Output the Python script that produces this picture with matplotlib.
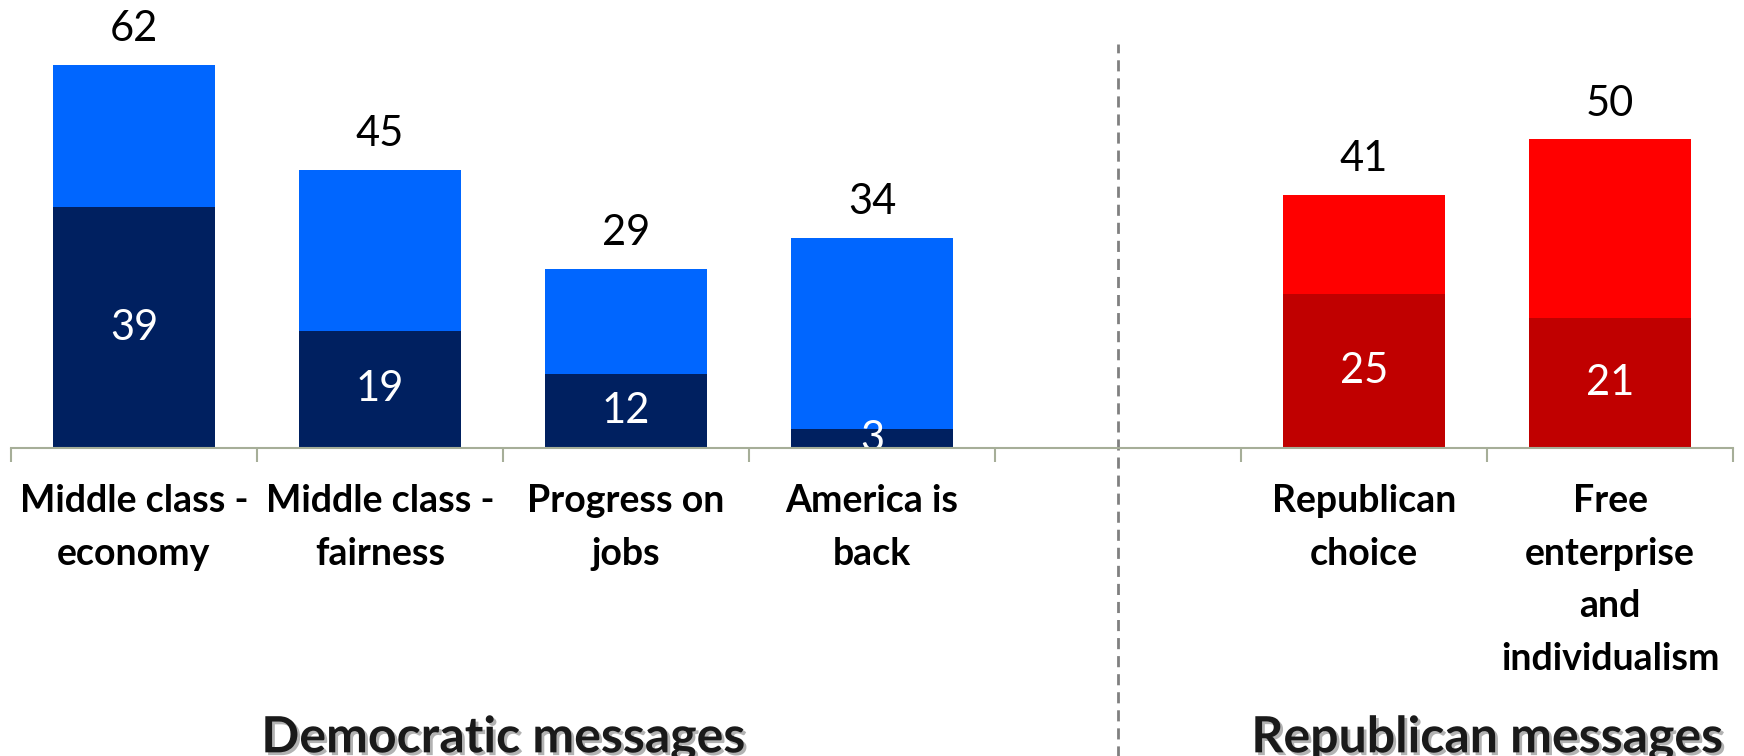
import matplotlib
matplotlib.use("Agg")
import matplotlib.pyplot as plt
import matplotlib.patheffects as pe
import numpy as np

categories = ["Middle class -\neconomy", "Middle class -\nfairness", "Progress on\njobs",
              "America is\nback", "Republican\nchoice", "Free\nenterprise\nand\nindividualism"]
totals = [62, 45, 29, 34, 41, 50]
strong = [39, 19, 12, 3, 25, 21]
party = ["D", "D", "D", "D", "R", "R"]
group_titles = ["Democratic messages", "Republican messages"]

slots = [0, 1, 2, 3, 5, 6]  # slot 4 is an empty gap
dark_col = {"D": "#002060", "R": "#C00000"}
light_col = {"D": "#0066FF", "R": "#FF0000"}

FONT = ["Lato", "DejaVu Sans"]
plt.rcParams['font.family'] = FONT

fig = plt.figure(figsize=(17.44, 7.56), dpi=100)
ax = fig.add_axes([0.0063, 0.4074, 0.9874, 0.5716])

x = np.array(slots, dtype=float)
strong_a = np.array(strong)
rest = np.array(totals) - strong_a
ax.bar(x, strong_a, width=0.66, color=[dark_col[p] for p in party], zorder=2)
ax.bar(x, rest, bottom=strong_a, width=0.66, color=[light_col[p] for p in party], zorder=2)

for xi, t, s in zip(x, totals, strong):
    ax.text(xi, t + 5.8, str(t), ha="center", va="center", fontsize=30, color="black", clip_on=False)
    ax.text(xi, s / 2, str(s), ha="center", va="center", fontsize=30, color="white", zorder=3)

ax.set_xlim(-0.5, 6.5)
ax.set_ylim(0, 70)
for sp in ["left", "right", "top"]:
    ax.spines[sp].set_visible(False)
ax.spines["bottom"].set_color("#A6AE98")
ax.spines["bottom"].set_linewidth(1.5)
ax.spines["bottom"].set_zorder(4)
ax.set_yticks([])

ax.set_xticks(x)
ax.set_xticklabels(categories, fontsize=27, fontweight="bold", linespacing=1.66)
ax.tick_params(axis="x", which="major", length=0, pad=26)
ax.set_xticks(np.arange(-0.5, 7.0, 1.0), minor=True)
ax.tick_params(axis="x", which="minor", length=10, width=1.5, color="#A6AE98", direction="out")

# separator
ax.plot([4, 4], [-60, 65.5], transform=ax.transData, ls=(0, (4, 2.5)), color="#808080",
        lw=2, clip_on=False, zorder=1)

shadow = [pe.SimplePatchShadow(offset=(2, -2), alpha=0.45, shadow_rgbFace="#555555"), pe.Normal()]
for xc, title in zip([1.5, 5.5], group_titles):
    ax.text(xc, -49.3, title, ha="center", va="baseline", fontsize=36, fontweight="bold",
            color="#1a1a1a", path_effects=shadow, clip_on=False)

fig.savefig("out.png", dpi=100)
